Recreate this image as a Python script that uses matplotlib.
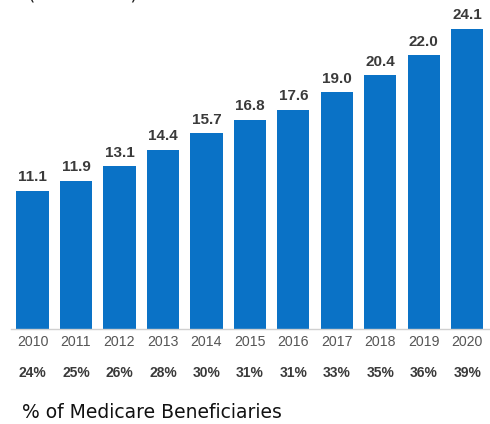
import numpy as np
import matplotlib.pyplot as plt
import matplotlib.transforms as mtransforms

years = ['2010', '2011', '2012', '2013', '2014', '2015', '2016', '2017', '2018', '2019', '2020']
enrollment = [11.1, 11.9, 13.1, 14.4, 15.7, 16.8, 17.6, 19.0, 20.4, 22.0, 24.1]
share = ['24%', '25%', '26%', '28%', '30%', '31%', '31%', '33%', '35%', '36%', '39%']

fig = plt.figure(figsize=(4.9, 4.24), dpi=100)
ax = fig.add_axes([0.022, 0.224, 0.976, 0.776])

x = np.arange(len(years))
bars = ax.bar(x, enrollment, width=0.74, color='#0a72c6')

# values above each bar
for xi, v in zip(x, enrollment):
    ax.annotate(f'{v:.1f}', (xi, v), xytext=(0, 4.5), textcoords='offset points',
                ha='center', va='bottom', fontsize=11, fontweight='bold',
                color='#3a3a3a', family='Liberation Sans')

ax.set_xlim(-0.5, len(years) - 0.5)
ax.set_ylim(0, 26.4)
ax.set_xticks(x)
ax.set_xticklabels(years, fontsize=10.2, color='#555555', family='Liberation Sans')
ax.tick_params(axis='x', length=0, pad=4)
ax.set_yticks([])
for side in ['top', 'right', 'left']:
    ax.spines[side].set_visible(False)
ax.spines['bottom'].set_color('#d0d0d0')
ax.spines['bottom'].set_linewidth(1)

# share of beneficiaries row under the years
trans = mtransforms.blended_transform_factory(ax.transData, fig.transFigure)
for xi, s in zip(x, share):
    ax.text(xi, 1 - 373 / 424, s, transform=trans, ha='center', va='center',
            fontsize=10, fontweight='bold', color='#3a3a3a', family='Liberation Sans')

fig.text(22 / 490, 1 - 413 / 424, '% of Medicare Beneficiaries', ha='left', va='center',
         fontsize=13.5, color='#111111', family='DejaVu Sans')

# axis caption sitting above the plot
fig.text(28 / 490, 1.0, '(in millions)', ha='left', va='baseline',
         fontsize=13.5, color='#222222', family='DejaVu Sans')

fig.savefig('out.png', dpi=100)
